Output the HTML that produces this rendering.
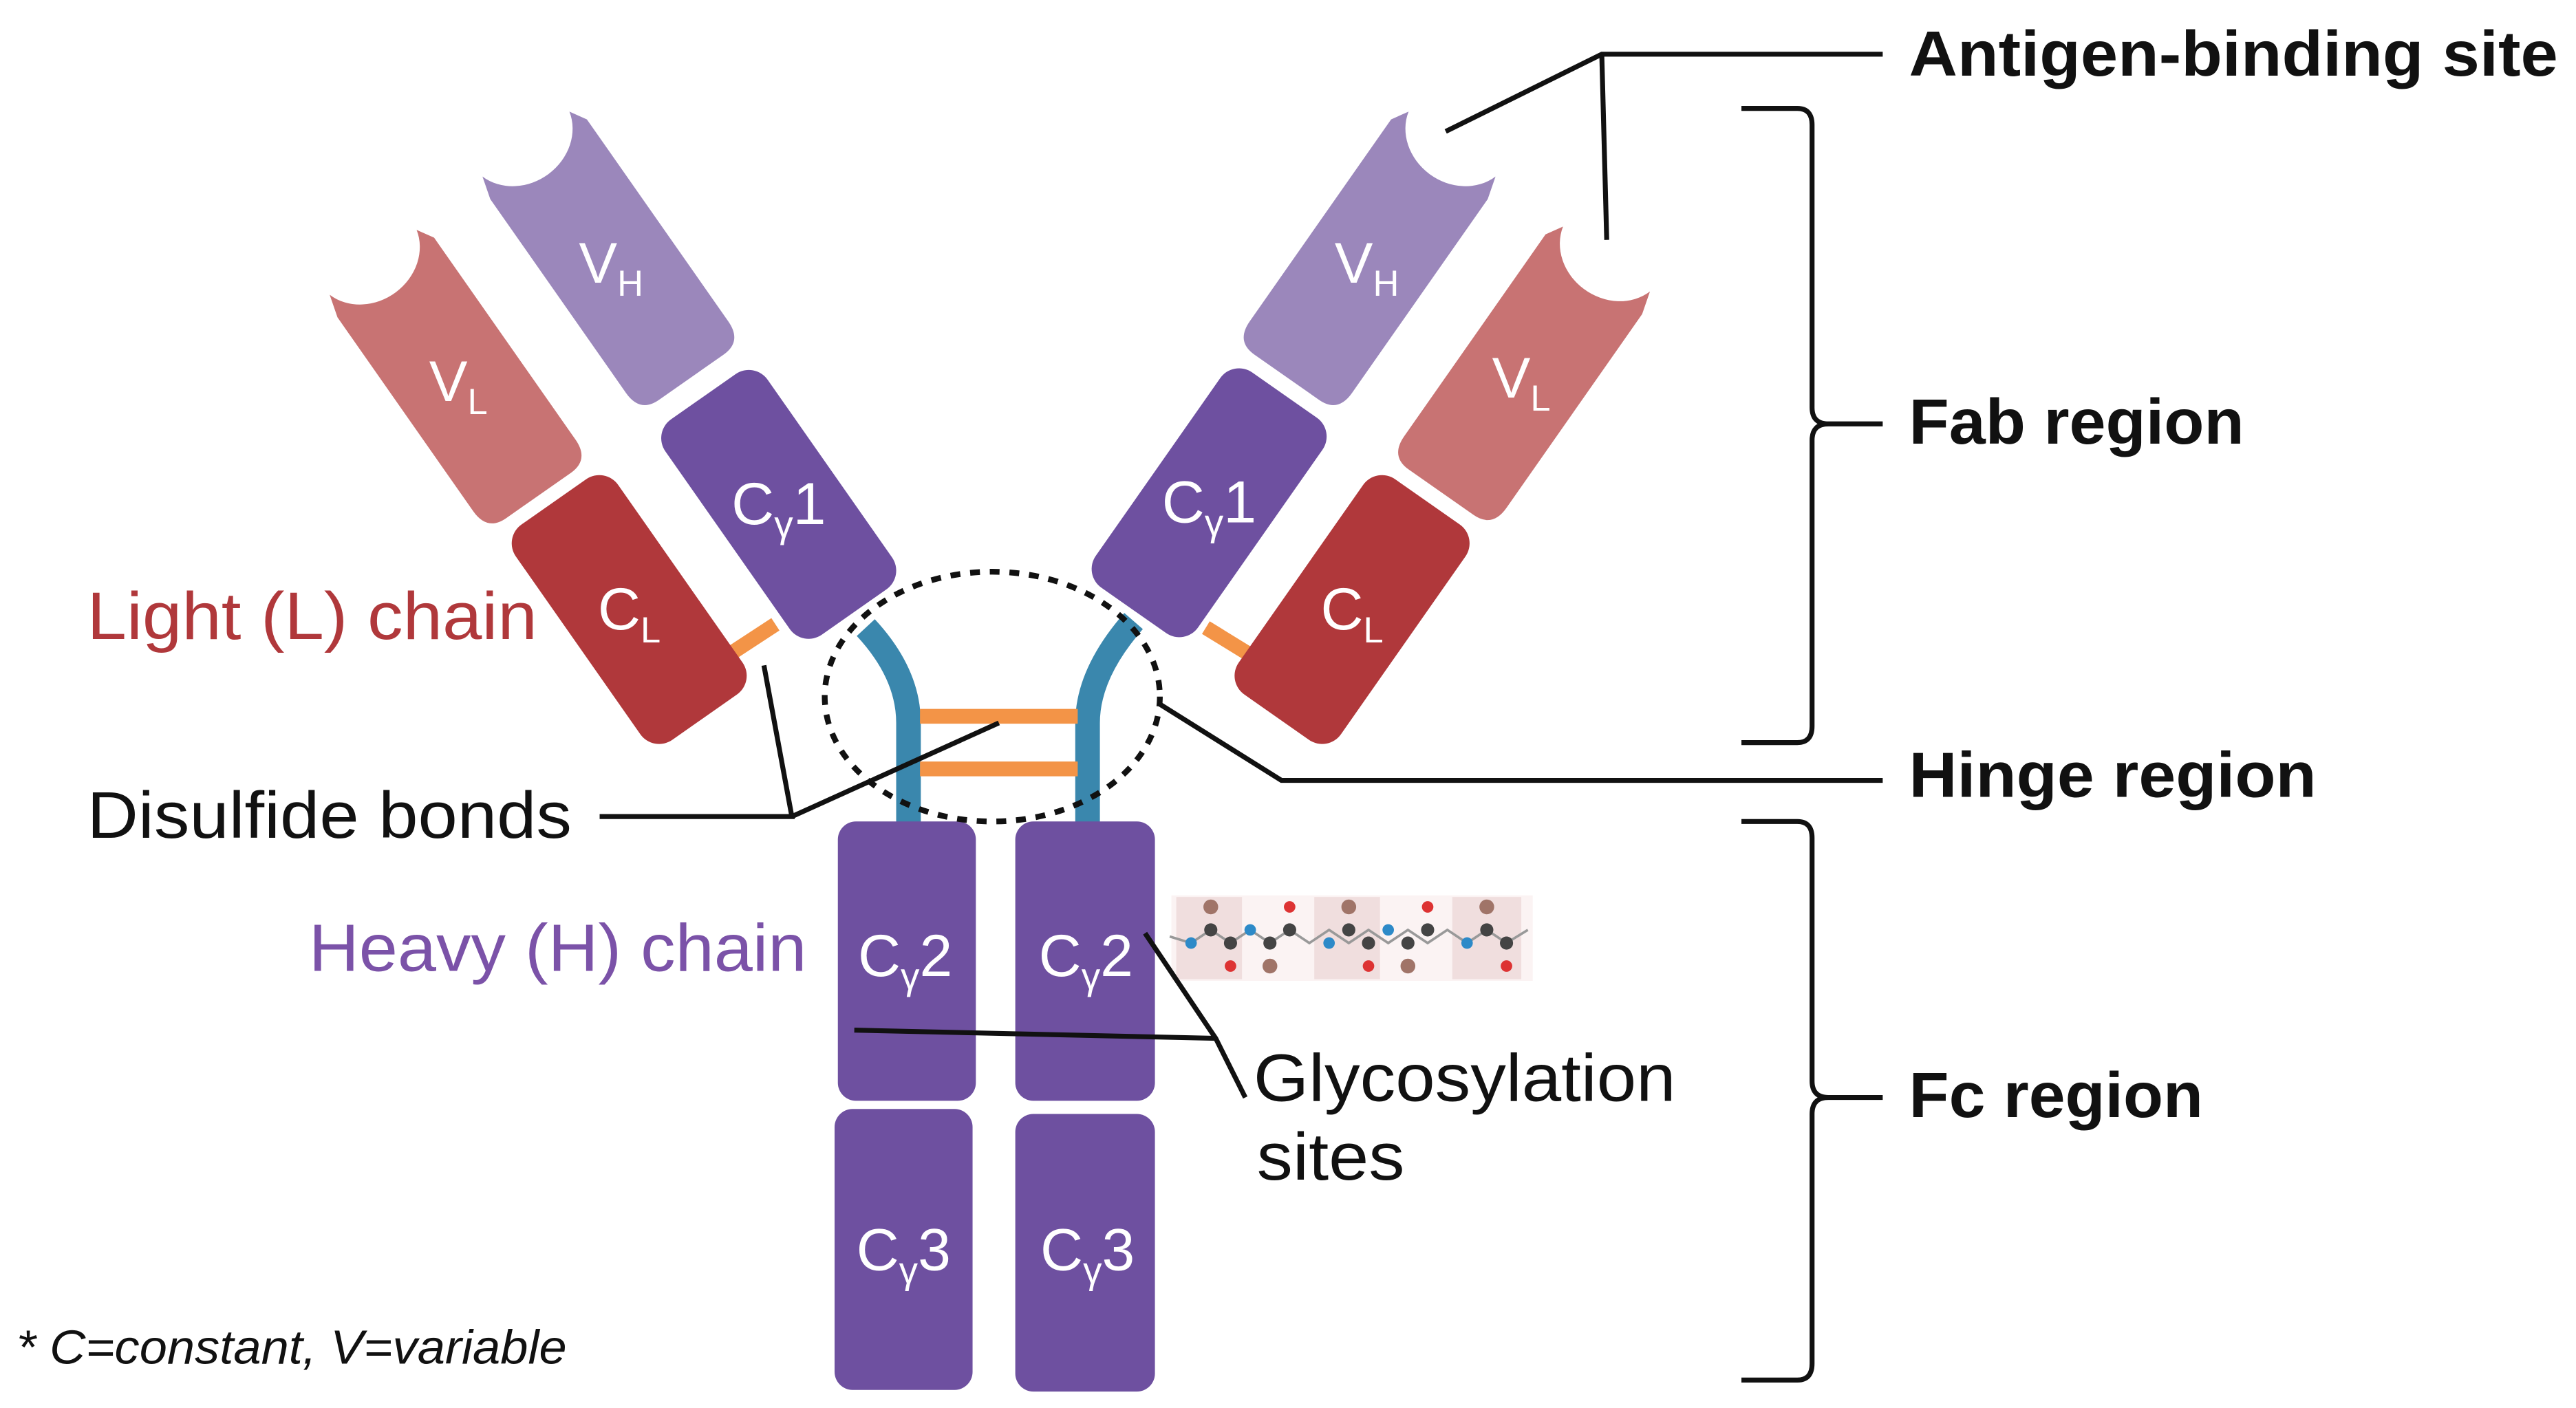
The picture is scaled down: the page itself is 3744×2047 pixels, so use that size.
<!DOCTYPE html>
<html><head><meta charset="utf-8"><style>
html,body{margin:0;padding:0;background:#fff;}
svg{display:block;}
text{font-family:"Liberation Sans",sans-serif;}
</style></head><body>
<svg width="3744" height="2047" viewBox="0 0 1568 857" preserveAspectRatio="none" xmlns="http://www.w3.org/2000/svg">
<defs>
<path id="vdom" d="M-38,-74 L-34,-88 A34 30 0 0 0 32,-90 L38,-80 L38,70 Q38,85 24,85 L-24,85 Q-38,85 -38,70 Z"/>
</defs>
<rect width="1568" height="857" fill="#fff"/>

<!-- hinge -->
<g fill="none" stroke="#3a87ad" stroke-width="15" stroke-linecap="butt">
<path d="M527,382 Q553,410 553,440 L553,502"/>
<path d="M690,378 Q662,410 662,440 L662,502"/>
</g>
<g stroke="#f39447" stroke-width="9">
<line x1="560" y1="436" x2="656" y2="436"/>
<line x1="560" y1="468" x2="656" y2="468"/>
<line x1="446" y1="397" x2="472" y2="380"/>
<line x1="734" y1="382" x2="760" y2="398"/>
</g>

<!-- left arm -->
<g transform="translate(372,160) rotate(-35)"><use href="#vdom" fill="#9b87bb"/><text x="0" y="12" font-size="35" fill="#fff" text-anchor="middle" transform="rotate(35)">V<tspan font-size="22" dy="8">H</tspan></text></g>
<g transform="translate(279,232) rotate(-35)"><use href="#vdom" fill="#c87373"/><text x="0" y="12" font-size="35" fill="#fff" text-anchor="middle" transform="rotate(35)">V<tspan font-size="22" dy="8">L</tspan></text></g>
<g transform="translate(383,371) rotate(-35)"><rect x="-38" y="-80" width="76" height="160" rx="14" fill="#b0383b"/><text x="0" y="12" font-size="36" fill="#fff" text-anchor="middle" transform="rotate(35)">C<tspan font-size="22" dy="8">L</tspan></text></g>
<g transform="translate(474,307) rotate(-35)"><rect x="-38" y="-80" width="76" height="160" rx="14" fill="#6e50a0"/><text x="0" y="12" font-size="36" fill="#fff" text-anchor="middle" transform="rotate(35)">C<tspan font-size="23" dy="8">γ</tspan><tspan dy="-8">1</tspan></text></g>

<!-- right arm -->
<g transform="translate(832,160) rotate(35)"><use href="#vdom" fill="#9b87bb" transform="scale(-1,1)"/><text x="0" y="12" font-size="35" fill="#fff" text-anchor="middle" transform="rotate(-35)">V<tspan font-size="22" dy="8">H</tspan></text></g>
<g transform="translate(926,230) rotate(35)"><use href="#vdom" fill="#c87373" transform="scale(-1,1)"/><text x="0" y="12" font-size="35" fill="#fff" text-anchor="middle" transform="rotate(-35)">V<tspan font-size="22" dy="8">L</tspan></text></g>
<g transform="translate(823,371) rotate(35)"><rect x="-38" y="-80" width="76" height="160" rx="14" fill="#b0383b"/><text x="0" y="12" font-size="36" fill="#fff" text-anchor="middle" transform="rotate(-35)">C<tspan font-size="22" dy="8">L</tspan></text></g>
<g transform="translate(736,306) rotate(35)"><rect x="-38" y="-80" width="76" height="160" rx="14" fill="#6e50a0"/><text x="0" y="12" font-size="36" fill="#fff" text-anchor="middle" transform="rotate(-35)">C<tspan font-size="23" dy="8">γ</tspan><tspan dy="-8">1</tspan></text></g>

<!-- Fc -->
<g fill="#6e50a0">
<rect x="510" y="500" width="84" height="170" rx="11"/>
<rect x="618" y="500" width="85" height="170" rx="11"/>
<rect x="508" y="675" width="84" height="171" rx="11"/>
<rect x="618" y="678" width="85" height="169" rx="11"/>
</g>
<g font-size="36" fill="#fff" text-anchor="middle">
<text x="551" y="594">C<tspan font-size="23" dy="8">γ</tspan><tspan dy="-8">2</tspan></text>
<text x="661" y="594">C<tspan font-size="23" dy="8">γ</tspan><tspan dy="-8">2</tspan></text>
<text x="550" y="773">C<tspan font-size="23" dy="8">γ</tspan><tspan dy="-8">3</tspan></text>
<text x="662" y="773">C<tspan font-size="23" dy="8">γ</tspan><tspan dy="-8">3</tspan></text>
</g>

<!-- dotted ellipse -->
<ellipse cx="604" cy="424" rx="102" ry="76" fill="none" stroke="#111" stroke-width="3.5" stroke-dasharray="6,6"/>

<!-- molecule -->
<g>
<rect x="713" y="545" width="220" height="52" fill="#fbf3f3"/>
<rect x="716" y="546" width="40" height="50" fill="#f0dede"/>
<rect x="800" y="546" width="40" height="50" fill="#f0dede"/>
<rect x="884" y="546" width="42" height="50" fill="#f0dede"/>
<polyline points="712,570 725,574 737,566 749,574 761,566 773,574 785,566 797,574 809,566 821,574 833,566 845,574 857,566 869,574 881,566 893,574 905,566 917,574 930,566" fill="none" stroke="#999" stroke-width="1.5"/>
<g fill="#444"><circle cx="737" cy="566" r="4"/><circle cx="749" cy="574" r="4"/><circle cx="773" cy="574" r="4"/><circle cx="785" cy="566" r="4"/><circle cx="821" cy="566" r="4"/><circle cx="833" cy="574" r="4"/><circle cx="857" cy="574" r="4"/><circle cx="869" cy="566" r="4"/><circle cx="905" cy="566" r="4"/><circle cx="917" cy="574" r="4"/></g>
<g fill="#2d8ac8"><circle cx="725" cy="574" r="3.5"/><circle cx="761" cy="566" r="3.5"/><circle cx="809" cy="574" r="3.5"/><circle cx="845" cy="566" r="3.5"/><circle cx="893" cy="574" r="3.5"/></g>
<g fill="#a07468"><circle cx="737" cy="552" r="4.5"/><circle cx="773" cy="588" r="4.5"/><circle cx="821" cy="552" r="4.5"/><circle cx="857" cy="588" r="4.5"/><circle cx="905" cy="552" r="4.5"/></g>
<g fill="#d33"><circle cx="749" cy="588" r="3.5"/><circle cx="785" cy="552" r="3.5"/><circle cx="833" cy="588" r="3.5"/><circle cx="869" cy="552" r="3.5"/><circle cx="917" cy="588" r="3.5"/></g>
</g>

<!-- connector lines -->
<g fill="none" stroke="#111" stroke-width="3">
<polyline points="365,497 482,497 465,405"/>
<line x1="482" y1="497" x2="608" y2="440"/>
<polyline points="520,627 740,632"/>
<polyline points="697,568 740,632 758,668"/>
<polyline points="705,428 780,475 1146,475"/>
<polyline points="880,80 975,33 1146,33"/>
<line x1="975" y1="33" x2="978" y2="146"/>
<path d="M1060,66 L1094,66 Q1103,66 1103,76 L1103,248 Q1103,258 1113,258 L1146,258 M1113,258 Q1103,258 1103,268 L1103,442 Q1103,452 1094,452 L1060,452"/>
<path d="M1060,500 L1094,500 Q1103,500 1103,510 L1103,658 Q1103,668 1113,668 L1146,668 M1113,668 Q1103,668 1103,678 L1103,830 Q1103,840 1094,840 L1060,840"/>
</g>

<!-- labels -->
<text x="53" y="389" font-size="41" fill="#b0383b" textLength="274" lengthAdjust="spacingAndGlyphs">Light (L) chain</text>
<text x="53" y="510" font-size="40" fill="#111" textLength="295" lengthAdjust="spacingAndGlyphs">Disulfide bonds</text>
<text x="188" y="591" font-size="41" fill="#7b52a8" textLength="303" lengthAdjust="spacingAndGlyphs">Heavy (H) chain</text>
<text x="763" y="670" font-size="41" fill="#111" textLength="257" lengthAdjust="spacingAndGlyphs">Glycosylation</text>
<text x="765" y="718" font-size="41" fill="#111" textLength="90" lengthAdjust="spacingAndGlyphs">sites</text>
<text x="10" y="830" font-size="29" font-style="italic" fill="#111" textLength="335" lengthAdjust="spacingAndGlyphs">* C=constant, V=variable</text>
<g font-size="39" font-weight="bold" fill="#111">
<text x="1162" y="46" textLength="395" lengthAdjust="spacingAndGlyphs">Antigen-binding site</text>
<text x="1162" y="270" textLength="204" lengthAdjust="spacingAndGlyphs">Fab region</text>
<text x="1162" y="485" textLength="248" lengthAdjust="spacingAndGlyphs">Hinge region</text>
<text x="1162" y="680" textLength="179" lengthAdjust="spacingAndGlyphs">Fc region</text>
</g>
</svg>
</body></html>
